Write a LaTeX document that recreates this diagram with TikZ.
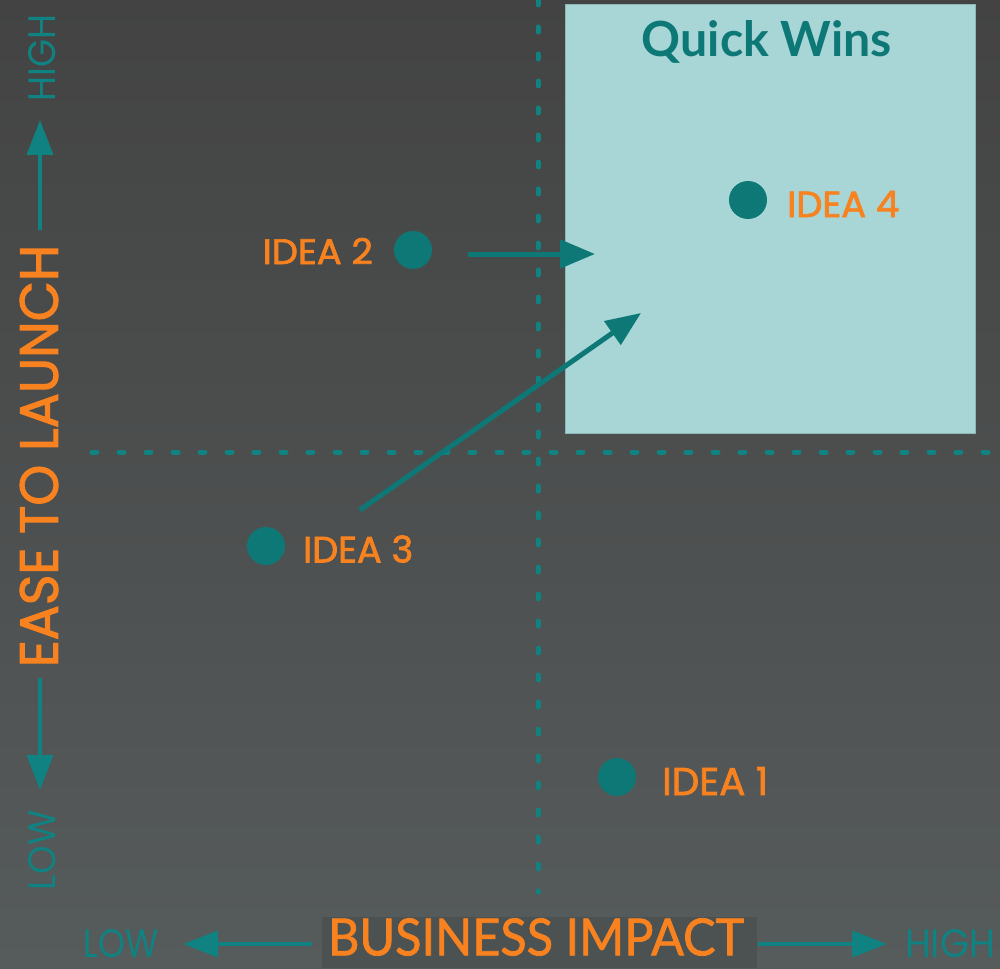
\documentclass[tikz,border=0pt]{standalone}
\usepackage{fontspec}
\setmainfont{Lato}
\newfontfamily\geo{Poppins}
\newfontfamily\geob{Poppins}[FakeBold=2]
\newfontfamily\latob{Lato}[FakeBold=1.5]
\usetikzlibrary{arrows.meta}
\definecolor{tealdot}{HTML}{0E7877}
\definecolor{tealline}{HTML}{0F8281}
\definecolor{orng}{HTML}{F7821F}
\definecolor{boxfill}{HTML}{A8D5D6}
\definecolor{boxedge}{HTML}{8FB5B6}
\definecolor{bgdark}{HTML}{434343}
\definecolor{bglight}{HTML}{565B5B}
\definecolor{labelbg}{HTML}{4C5252}
\newcommand\fitbox[3]{\resizebox{#1pt}{#2pt}{#3}}
\begin{document}
\begin{tikzpicture}[x=1pt,y=-1pt,
  idea/.style={circle, fill=tealdot, minimum size=38pt, inner sep=0pt},
  lbl/.style={inner sep=0pt, text=orng},
  axlbl/.style={inner sep=0pt, text=tealline},
  dashline/.style={draw=tealline, line width=5pt, line cap=round, dash pattern=on 5pt off 22pt},
  arr/.style={draw=tealdot, line width=5pt, -{Triangle[length=35pt, width=28pt]}},
  axarr/.style={draw=tealline, line width=4pt, -{Triangle[length=35pt, width=26pt]}}
]
\useasboundingbox (0,0) rectangle (1000,968);
\shade[shading angle=-45, top color=bgdark, bottom color=bglight] (0,0) rectangle (1000,968);

% quick wins box
\node[draw=boxedge, fill=boxfill, line width=1pt, minimum width=410pt, minimum height=429pt, anchor=north west, inner sep=0pt] (qw) at (565,4) {};
\node[inner sep=0pt, text=tealdot] (qwt) at (767,42) {\fitbox{250}{36}{\bfseries Quick Wins}};

% dashed quadrant lines
\coordinate (vtop) at (538,0);
\coordinate (vbot) at (538,892);
\coordinate (hl) at (92,452);
\coordinate (hr) at (1000,452);
\draw[dashline] (vtop) -- (vbot);
\draw[dashline] (hl) -- (hr);

% ideas
\node[idea] (d2) at (413,250) {};
\node[lbl, anchor=east] (l2) at (373,251) {\fitbox{110}{26}{\geob IDEA 2}};
\node[idea] (d4) at (748,200) {};
\node[lbl, anchor=west] (l4) at (787,204) {\fitbox{112}{26}{\geob IDEA 4}};
\node[idea] (d3) at (266,546) {};
\node[lbl, anchor=west] (l3) at (303,549) {\fitbox{110}{27}{\geob IDEA 3}};
\node[idea] (d1) at (617,777) {};
\node[lbl, anchor=west] (l1) at (662,781) {\fitbox{106}{28}{\geob IDEA 1}};

% movement arrows
\coordinate (a2s) at (468,254);
\coordinate (a2e) at (595,254);
\draw[arr] (a2s) -- (a2e);
\coordinate (a3s) at (360,510);
\coordinate (a3e) at (641,313);
\draw[arr] (a3s) -- (a3e);

% vertical axis
\node[lbl, rotate=90] (ease) at (39,456) {\fitbox{422}{38}{\geob EASE TO LAUNCH}};
\node[axlbl, rotate=90] (vhigh) at (42,58) {\fitbox{87}{27}{\geo HIGH}};
\node[axlbl, rotate=90] (vlow) at (42,850) {\fitbox{80}{27}{\geo LOW}};
\coordinate (vus) at (40,230);
\coordinate (vue) at (40,120);
\coordinate (vds) at (40,678);
\coordinate (vde) at (40,790);
\draw[axarr] (vus) -- (vue);
\draw[axarr] (vds) -- (vde);

% horizontal axis
\fill[labelbg] (322,917) rectangle (757,968);
\node[lbl] (biz) at (536,937) {\fitbox{416}{37}{\latob BUSINESS IMPACT}};
\node[axlbl] (hlow) at (121,944) {\fitbox{75}{28}{\geo LOW}};
\node[axlbl] (hhigh) at (950,944) {\fitbox{90}{28}{\geo HIGH}};
\coordinate (hls) at (312,944);
\coordinate (hle) at (183,944);
\coordinate (hrs) at (758,944);
\coordinate (hre) at (887,944);
\draw[axarr] (hls) -- (hle);
\draw[axarr] (hrs) -- (hre);
\end{tikzpicture}
\end{document}
